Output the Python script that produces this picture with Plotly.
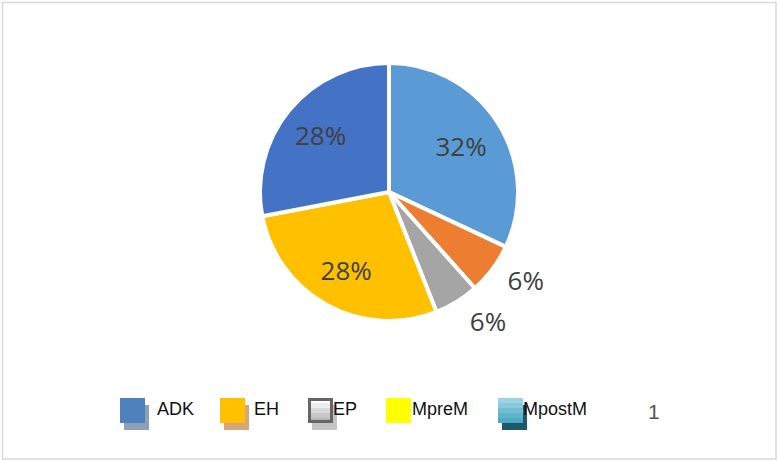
import plotly.graph_objects as go

# ---- data ----
slice_names = ["S1", "S2", "S3", "S4", "S5"]
slice_values = [32, 6.4, 5.6, 28, 28]
slice_colors = ["#5B9BD5", "#ED7D31", "#A5A5A5", "#FFC000", "#4472C4"]
inside_mask = [True, False, False, True, True]

legend_names = ["ADK", "EH", "EP", "MpreM", "MpostM"]
legend_extra = "1"

W, H = 778, 461

def px(x):
    return x / W

def py(y):
    return 1 - y / H

label_font = dict(family="Open Sans, Noto Sans, sans-serif", size=26, color="#404040")

# pie geometry (pixels)
cx, cy, R = 389, 192, 129

def dom(scale):
    r = scale * R
    return dict(x=[px(cx - r), px(cx + r)], y=[py(cy + r), py(cy - r)])

fig = go.Figure()
# visible pie (no text)
fig.add_trace(go.Pie(
    labels=slice_names,
    values=slice_values,
    sort=False,
    direction="clockwise",
    rotation=0,
    marker=dict(colors=slice_colors, line=dict(color="white", width=4)),
    textinfo="none",
    showlegend=False,
    hoverinfo="label+percent",
    domain=dom(1.0),
))

# transparent overlay pies used only to place the percentage labels
def label_pie(mask, pos, scale):
    return go.Pie(
        labels=slice_names,
        values=slice_values,
        sort=False,
        direction="clockwise",
        rotation=0,
        marker=dict(colors=["rgba(0,0,0,0)"] * len(slice_values), line=dict(width=0)),
        texttemplate=["%{percent:.0%}" if m else "" for m in mask],
        textposition=[pos if m else "none" for m in mask],
        insidetextorientation="horizontal",
        textfont=label_font,
        showlegend=False,
        hoverinfo="skip",
        domain=dom(scale),
    )

fig.add_trace(label_pie(inside_mask, "inside", 1.22))
fig.add_trace(label_pie([not m for m in inside_mask], "outside", 1.06))

shapes = []
annotations = []

# chart border
shapes.append(dict(type="rect", xref="paper", yref="paper",
                   x0=px(2.5), x1=px(776), y0=py(459), y1=py(2.5),
                   line=dict(color="#D9D9D9", width=1.5), fillcolor="rgba(0,0,0,0)"))

# legend styles
leg_style = [
    dict(x=120, front=["#4F81BD"], shadow="#8E9FBB", line=None, tx=157),
    dict(x=220, front=["#FFC000"], shadow="#D6A57C", line=None, tx=254),
    dict(x=308, front=["#FFFFFF", "#EDEDED", "#DADADA", "#C8C8C8", "#B5B5B5"], shadow="#C4C4C4", line="#666666", tx=333),
    dict(x=386, front=["#FFFF00"], shadow=None, line=None, tx=412),
    dict(x=498, front=["#9AD4E3", "#86CADB", "#72BFD3", "#5EB4CB", "#4CAAC3"], shadow="#215867", line=None, tx=523),
]
sq = 25
top = 398
for name, st in zip(legend_names, leg_style):
    x0 = st["x"]
    if st["shadow"]:
        shapes.append(dict(type="rect", xref="paper", yref="paper",
                           x0=px(x0 + 4), x1=px(x0 + 4 + sq), y0=py(top + 7 + sq), y1=py(top + 7),
                           line=dict(width=0), fillcolor=st["shadow"]))
    n = len(st["front"])
    for i, c in enumerate(st["front"]):
        y0 = top + sq * i / n
        y1 = top + sq * (i + 1) / n
        shapes.append(dict(type="rect", xref="paper", yref="paper",
                           x0=px(x0), x1=px(x0 + sq), y0=py(y1), y1=py(y0),
                           line=dict(width=0), fillcolor=c))
    if st["line"]:
        shapes.append(dict(type="rect", xref="paper", yref="paper",
                           x0=px(x0 + 1.5), x1=px(x0 + sq - 1.5), y0=py(top + sq - 1.5), y1=py(top + 1.5),
                           line=dict(width=3, color=st["line"]), fillcolor="rgba(0,0,0,0)"))
    annotations.append(dict(xref="paper", yref="paper", x=px(st["tx"] - 2), y=py(409),
                            xanchor="left", yanchor="middle", showarrow=False, text=name,
                            font=dict(family="Liberation Sans Narrow, Arial Narrow, Liberation Sans, Arial, sans-serif",
                                      size=18, color="#111111")))

annotations.append(dict(xref="paper", yref="paper", x=px(654), y=py(411),
                        xanchor="center", yanchor="middle", showarrow=False, text=legend_extra,
                        font=dict(family="Liberation Sans, Arial, sans-serif",
                                  size=21, color="#555555")))

fig.update_layout(
    width=W, height=H,
    margin=dict(l=0, r=0, t=0, b=0),
    paper_bgcolor="white",
    plot_bgcolor="white",
    shapes=shapes,
    annotations=annotations,
)

fig.write_html("out.html", config={"displayModeBar": False},
               post_script="document.body.style.margin='0';")
